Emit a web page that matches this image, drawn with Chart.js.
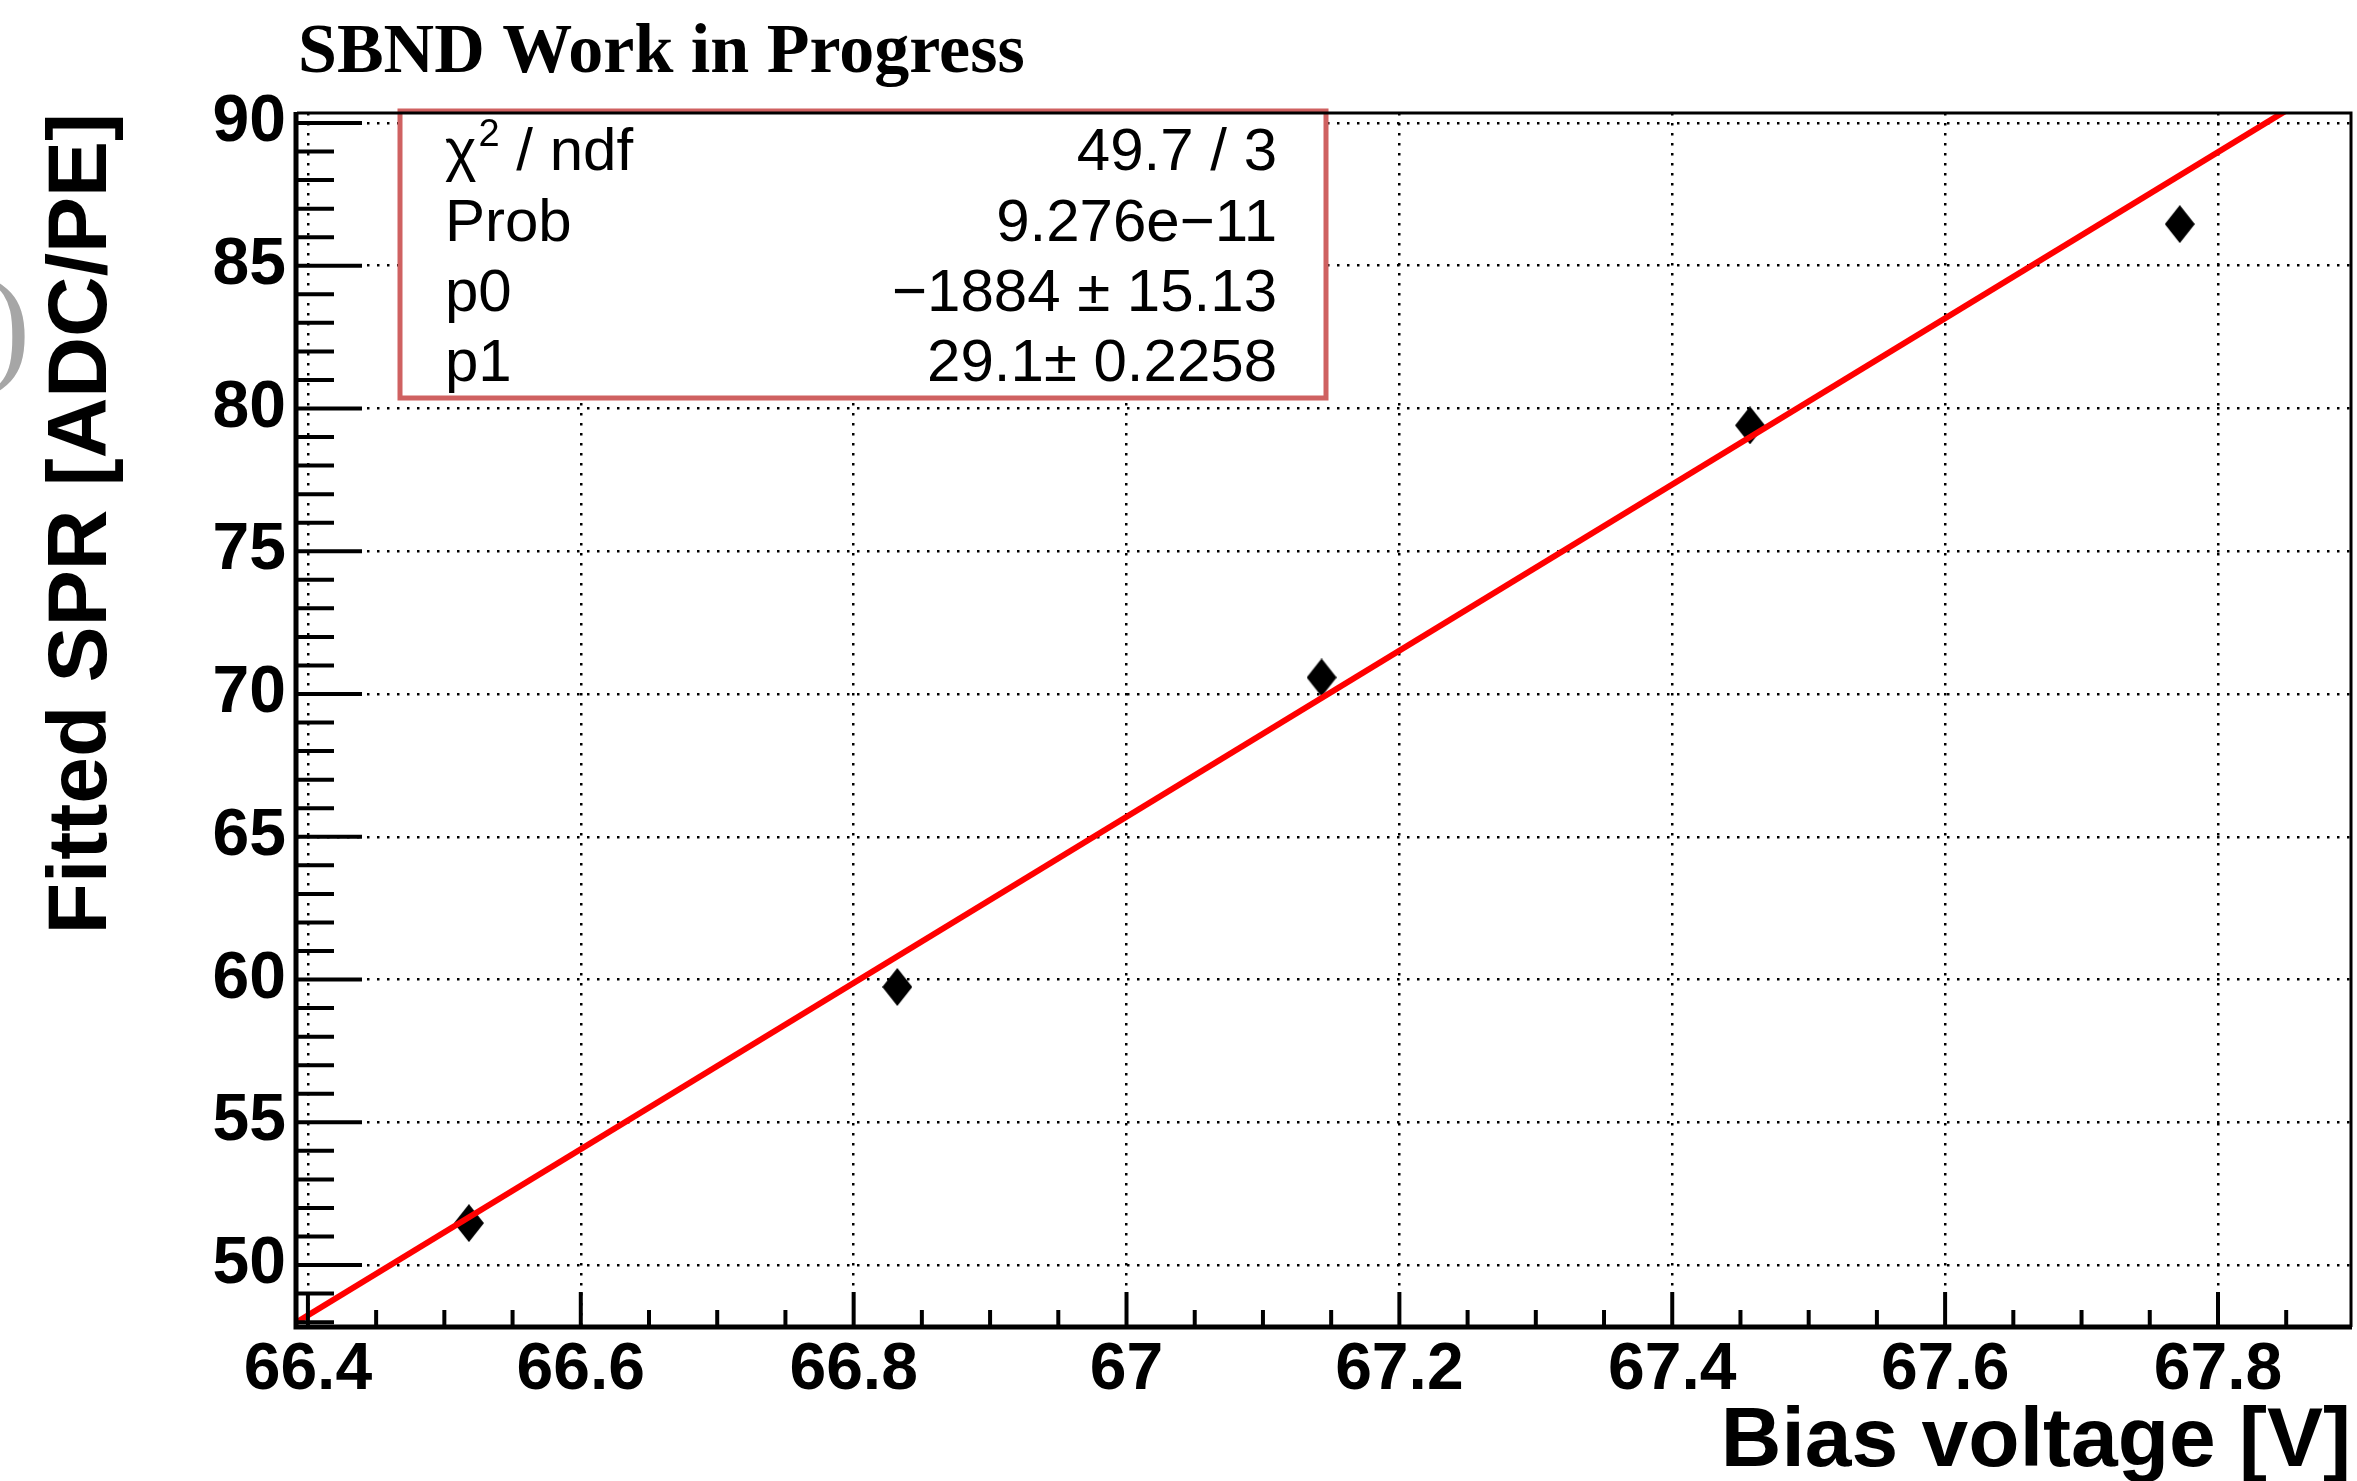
<!DOCTYPE html>
<html>
<head>
<meta charset="utf-8">
<script src="https://cdn.jsdelivr.net/npm/chart.js@4.4.1/dist/chart.umd.min.js"></script>
<style>
  html, body { margin: 0; padding: 0; background: #fff; overflow: hidden; }
  canvas { display: block; }
</style>
</head>
<body>
<canvas id="sprChart" width="2357" height="1481"></canvas>
<script>
// SPR vs bias voltage, with pol1 fit
const biasVoltage = [66.518, 66.832, 67.143, 67.457, 67.772];
const fittedSPR = [51.47, 59.74, 70.58, 79.41, 86.46];

// fit parameters (as printed in the stats box)
const fitP0 = -1884;
const fitP1 = 29.1;
const statNames = ["χ", "Prob", "p0", "p1"];
const statValues = ["49.7 / 3", "9.276e\u221211", "\u22121884 \u00b1 15.13", "29.1\u00b1 0.2258"];

const xRange = [66.392, 67.8975];
const yRange = [47.83, 90.35];

const FONT = '"Liberation Sans", Arial, sans-serif';

// filled diamond marker
const marker = document.createElement("canvas");
marker.width = 30;
marker.height = 38;
const mctx = marker.getContext("2d");
mctx.fillStyle = "#000";
mctx.beginPath();
mctx.moveTo(15, 0);
mctx.lineTo(30, 19);
mctx.lineTo(15, 38);
mctx.lineTo(0, 19);
mctx.closePath();
mctx.fill();

const points = biasVoltage.map((v, i) => ({ x: v, y: fittedSPR[i] }));
const fitLine = xRange.map((v) => ({ x: v, y: fitP0 + fitP1 * v }));

// inward ROOT-style tick marks
function drawAxisTicks(ctx, scale, area, minorStep, majorStep, majorLen, minorLen) {
  const horizontal = scale.isHorizontal();
  const n0 = Math.ceil(scale.min / minorStep - 1e-6);
  const n1 = Math.floor(scale.max / minorStep + 1e-6);
  ctx.lineWidth = 4;
  ctx.strokeStyle = "#000";
  for (let n = n0; n <= n1; n++) {
    const v = n * minorStep;
    const r = v / majorStep;
    const major = Math.abs(r - Math.round(r)) < 1e-6;
    const len = major ? majorLen : minorLen;
    const p = scale.getPixelForValue(v);
    ctx.beginPath();
    if (horizontal) {
      ctx.moveTo(p, area.bottom);
      ctx.lineTo(p, area.bottom - len);
    } else {
      ctx.moveTo(area.left, p);
      ctx.lineTo(area.left + len, p);
    }
    ctx.stroke();
  }
}

// keep the plot frame exactly where the layout puts it
function fixBox(prop, size) {
  return (s) => {
    s[prop] = size;
    s.paddingLeft = 0;
    s.paddingRight = 0;
    s.paddingTop = 0;
    s.paddingBottom = 0;
  };
}

const rootStyle = {
  id: "rootStyle",
  afterDatasetsDraw(chart) {
    const { ctx, chartArea: a } = chart;
    ctx.save();

    // stats box
    const bx = 400, by = 111, bw = 926, bh = 287;
    ctx.fillStyle = "#fff";
    ctx.fillRect(bx, by, bw, bh);
    ctx.lineWidth = 5;
    ctx.strokeStyle = "#cf6161";
    ctx.strokeRect(bx, by, bw, bh);

    const rows = [170, 241, 311, 381];
    ctx.fillStyle = "#000";
    ctx.textBaseline = "alphabetic";
    ctx.font = "60px " + FONT;
    statNames.forEach((name, i) => {
      ctx.textAlign = "left";
      if (i === 0) {
        ctx.fillText(name, 445, rows[i]);
        let w = ctx.measureText(name).width;
        ctx.font = "38px " + FONT;
        ctx.fillText("2", 445 + w + 2, rows[i] - 24);
        w += ctx.measureText("2").width + 2;
        ctx.font = "60px " + FONT;
        ctx.fillText(" / ndf", 445 + w, rows[i]);
      } else {
        ctx.fillText(name, 445, rows[i]);
      }
      ctx.textAlign = "right";
      ctx.fillText(statValues[i], 1277, rows[i]);
    });

    // frame
    ctx.strokeStyle = "#000";
    ctx.lineWidth = 3;
    ctx.beginPath();
    ctx.moveTo(a.left, a.top);
    ctx.lineTo(a.right, a.top);
    ctx.lineTo(a.right, a.bottom);
    ctx.stroke();
    ctx.lineWidth = 5;
    ctx.beginPath();
    ctx.moveTo(a.left - 1, a.top - 1);
    ctx.lineTo(a.left - 1, a.bottom);
    ctx.lineTo(a.right + 1, a.bottom);
    ctx.stroke();

    drawAxisTicks(ctx, chart.scales.x, a, 0.05, 0.2, 35, 17);
    drawAxisTicks(ctx, chart.scales.y, a, 1, 5, 65, 37);

    // header
    ctx.textAlign = "left";
    ctx.fillStyle = "#000";
    ctx.font = 'bold 70px "Liberation Serif", serif';
    ctx.fillText("SBND Work in Progress", 298, 72);

    // leftover bracket at the page edge
    ctx.fillStyle = "#a6a6a6";
    ctx.font = '130px "Liberation Serif", serif';
    ctx.fillText(")", -13, 368);

    ctx.restore();
  },
};

new Chart(document.getElementById("sprChart"), {
  type: "scatter",
  data: {
    datasets: [
      {
        label: "fit",
        type: "line",
        data: fitLine,
        borderColor: "#ff0000",
        borderWidth: 6,
        pointRadius: 0,
        fill: false,
        order: 0,
      },
      {
        label: "SPR",
        data: points,
        pointStyle: marker,
        pointRadius: 15,
        order: 1,
      },
    ],
  },
  options: {
    responsive: false,
    animation: false,
    events: [],
    layout: { autoPadding: false, padding: { top: 113, right: 6, left: 0, bottom: 0 } },
    scales: {
      x: {
        type: "linear",
        min: xRange[0],
        max: xRange[1],
        afterFit: fixBox("height", 154),
        border: { display: false, dash: [2.5, 7.5] },
        grid: { color: "#000", lineWidth: 2.5, drawTicks: false },
        ticks: {
          stepSize: 0.2,
          includeBounds: false,
          padding: 4,
          color: "#000",
          font: { family: FONT, weight: "bold", size: 66 },
          callback: (v) => String(+v.toFixed(2)),
        },
        title: {
          display: true,
          text: "Bias voltage [V]",
          align: "end",
          color: "#000",
          font: { family: FONT, weight: "bold", size: 84, lineHeight: 0.9 },
          padding: 0,
        },
      },
      y: {
        type: "linear",
        min: yRange[0],
        max: yRange[1],
        afterFit: fixBox("width", 297),
        border: { display: false, dash: [2.5, 7.5] },
        grid: { color: "#000", lineWidth: 2.5, drawTicks: false },
        ticks: {
          stepSize: 5,
          includeBounds: false,
          padding: 11,
          color: "#000",
          font: { family: FONT, weight: "bold", size: 66 },
        },
        title: {
          display: true,
          text: "Fitted SPR [ADC/PE]",
          align: "end",
          color: "#000",
          font: { family: FONT, weight: "bold", size: 84, lineHeight: 1 },
          padding: { top: 41, bottom: 0 },
        },
      },
    },
    plugins: {
      legend: { display: false },
      tooltip: { enabled: false },
    },
  },
  plugins: [rootStyle],
});
</script>
</body>
</html>
